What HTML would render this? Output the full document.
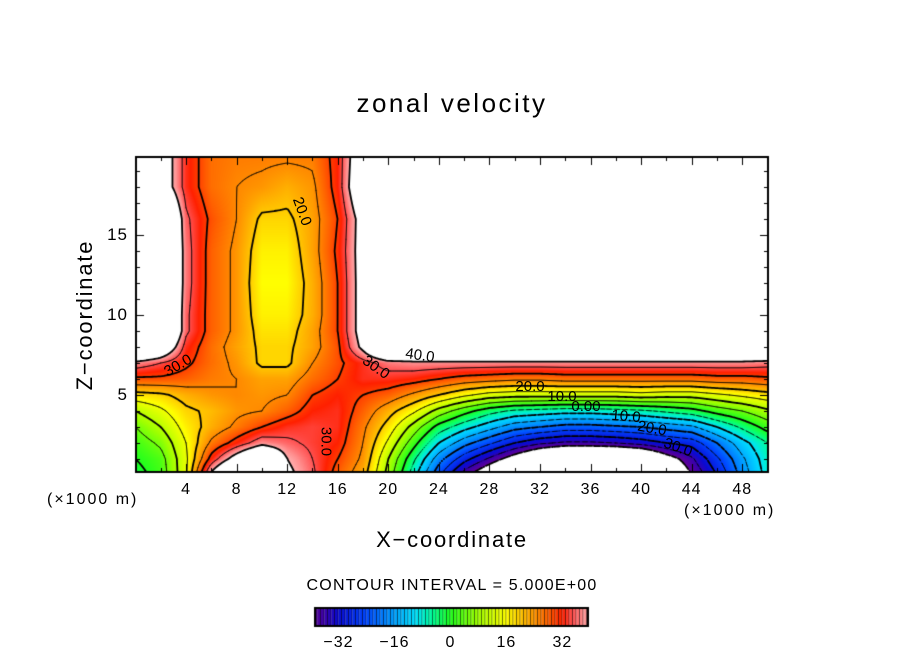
<!DOCTYPE html>
<html><head><meta charset="utf-8">
<style>
body{margin:0;background:#fff;width:904px;height:654px;overflow:hidden;position:relative;font-family:"Liberation Sans",sans-serif;}
.t{position:absolute;color:#000;white-space:nowrap;}
canvas{position:absolute;left:0;top:0;}
</style></head><body>
<canvas id="cv" width="904" height="654"></canvas>
<div class="t" style="left:0;width:904px;text-align:center;top:88px;font-size:26px;letter-spacing:2.5px;">zonal velocity</div>
<div class="t" style="left:252px;width:400px;text-align:center;top:527px;font-size:22px;letter-spacing:1.8px;">X−coordinate</div>
<div class="t" style="left:-15px;width:200px;text-align:center;top:302px;font-size:22px;letter-spacing:1.8px;transform:rotate(-90deg);">Z−coordinate</div>
<div class="t" style="left:47px;top:491px;font-size:16px;letter-spacing:2px;">(×1000 m)</div>
<div class="t" style="left:684px;top:502px;font-size:16px;letter-spacing:2px;">(×1000 m)</div>
<div class="t" style="left:0;width:904px;text-align:center;top:577px;font-size:16px;letter-spacing:1.2px;">CONTOUR INTERVAL = 5.000E+00</div>
<div id="labels"></div>
<script>
const xs=[0,2,4,6,8,10,12,14,16,18,20,22,24,26,28,30,32,34,36,38,40,42,44,46,48,50];
const zs=[0,1,2,3,4,5,6,7,8,9,10,12,14,16,18,20];
const row0=[-2,2,14,42,60,60,42,36,28,22,8,-8,-24,-38,-48,-60,-70,-70,-70,-70,-66,-52,-40,-30,-18,-8];
const row1=[0,3,14,32,44,55,40,35,30,24,10,-4,-18,-28,-36,-44,-52,-58,-58,-58,-54,-44,-36,-26,-16,-7];
const row2=[2,6,15,26,32,38,36,34,32,25,14,2,-10,-18,-24,-30,-34,-36,-36,-35,-33,-30,-28,-20,-12,-5];
const row3=[5,10,17,22,26,30,33,34,33,26,18,8,-2,-8,-13,-18,-20,-22,-22,-21,-20,-18,-16,-10,-4,2];
const row4=[10,14,19,21,24,25,28,32,33,28,22,16,8,2,-3,-6,-7,-8,-8,-7,-6,-4,-2,2,5,9];
const row5=[18,19,22,24,25,24,25,30,32,30,28,24,20,16,13,12,12,12,12,12,13,12,12,14,16,18];
const row6=[29,29,28,26,25,23,23,27,30,33,33,32,30,28,27,26,26,27,27,27,27,27,27,28,28,29];
const row7=[38,35,31,27,24,19,19,25,29,33,37,38,38,38,38,38,38,38,38,38,38,38,38,38,38,37];
const row8=[60,50,33,27,23,19,19,23,29,42,60,60,60,60,60,60,60,60,60,60,60,60,60,60,60,60];
const row9=[60,60,36,28,24,18,18,23,30,44,60,60,60,60,60,60,60,60,60,60,60,60,60,60,60,60];
const row10=[60,60,36,28,24,17,17,22,30,44,60,60,60,60,60,60,60,60,60,60,60,60,60,60,60,60];
const row12=[60,60,37,28,24,16,16,22,30,44,60,60,60,60,60,60,60,60,60,60,60,60,60,60,60,60];
const row14=[60,60,37,28,24,17,17,23,31,44,60,60,60,60,60,60,60,60,60,60,60,60,60,60,60,60];
const row16=[60,60,36,29,25,19,19,23,30,44,60,60,60,60,60,60,60,60,60,60,60,60,60,60,60,60];
const row18=[60,46,33,27,25,24,22,24,32,50,60,60,60,60,60,60,60,60,60,60,60,60,60,60,60,60];
const row20=[60,46,33,27,26,26,26,26,32,48,60,60,60,60,60,60,60,60,60,60,60,60,60,60,60,60];
const field=[row0,row1,row2,row3,row4,row5,row6,row7,row8,row9,row10,row12,row14,row16,row18,row20];
const levels=[-40,-35,-30,-25,-20,-15,-10,-5,0,5,10,15,20,25,30,35,40];
const xTicks=[4,8,12,16,20,24,28,32,36,40,44,48];
const zTicks=[5,10,15];
const cbTicks=[-32,-16,0,16,32];
const labelTexts=["20.0","30.0","30.0","40.0","30.0","20.0","10.0","0.00","10.0","20.0","30.0"];

const L=136,R=768,T=157,B=472;
const X=x=>135.5+12.64*x, Z=z=>475-16*z;
const Xi=p=>(p-135.5)/12.64, Zi=p=>(475-p)/16;
function idx(arr,v){let i=0;while(i<arr.length-2&&v>arr[i+1])i++;return i;}
function val(x,z){
  x=Math.max(0,Math.min(50,x));z=Math.max(0,Math.min(20,z));
  const i=idx(xs,x),j=idx(zs,z);
  const tx=(x-xs[i])/(xs[i+1]-xs[i]),tz=(z-zs[j])/(zs[j+1]-zs[j]);
  const a=field[j][i],b=field[j][i+1],c=field[j+1][i],d=field[j+1][i+1];
  return (a*(1-tx)+b*tx)*(1-tz)+(c*(1-tx)+d*tx)*tz;
}
const stops=[[-40,[100,0,150]],[-36,[60,0,170]],[-32,[10,10,210]],[-24,[0,70,255]],[-16,[0,160,255]],[-10,[0,225,255]],[-5,[0,255,150]],[0,[30,255,30]],[8,[160,255,0]],[16,[255,255,0]],[20,[255,200,0]],[24,[255,150,0]],[28,[255,96,0]],[32,[255,32,0]],[35,[255,80,80]],[38,[255,144,144]],[40,[255,176,176]]];
function col(v){
  if(v>40||v<-40)return [255,255,255];
  for(let k=0;k<stops.length-1;k++){const[a,ca]=stops[k],[b,cb]=stops[k+1];
    if(v<=b){const t=(v-a)/(b-a);return [0,1,2].map(i=>Math.round(ca[i]+(cb[i]-ca[i])*t));}}
  return stops[stops.length-1][1];
}
const cv=document.getElementById('cv'),ctx=cv.getContext('2d');
const img=ctx.createImageData(R-L,B-T);
for(let py=T;py<B;py++)for(let px=L;px<R;px++){
  const c=col(val(Xi(px+0.5),Zi(py+0.5)));const o=((py-T)*(R-L)+(px-L))*4;
  img.data[o]=c[0];img.data[o+1]=c[1];img.data[o+2]=c[2];img.data[o+3]=255;}
ctx.putImageData(img,L,T);
// contours
ctx.save();ctx.beginPath();ctx.rect(L,T,R-L,B-T);ctx.clip();
const st=2,nx=Math.ceil((R-L)/st)+1,ny=Math.ceil((B-T)/st)+1;
const g=[];for(let j=0;j<ny;j++){g[j]=[];for(let i=0;i<nx;i++)g[j][i]=val(Xi(L+i*st),Zi(T+j*st));}
ctx.strokeStyle='#000';ctx.lineCap='round';
levels.forEach(lv=>{
  ctx.lineWidth=(lv%10===0)?1.8:0.8;
  ctx.beginPath();
  for(let j=0;j<ny-1;j++){for(let i=0;i<nx-1;i++){
    if(lv<0&&((i+j)%4===0))continue;
    const x0=L+i*st,y0=T+j*st;
    const v=[g[j][i],g[j][i+1],g[j+1][i+1],g[j+1][i]];
    const pts=[[x0,y0],[x0+st,y0],[x0+st,y0+st],[x0,y0+st]];
    const cr=[];
    for(let e=0;e<4;e++){const a=v[e],b=v[(e+1)%4];
      if((a<lv)!==(b<lv)){const t=(lv-a)/(b-a);const p=pts[e],q=pts[(e+1)%4];cr.push([p[0]+(q[0]-p[0])*t,p[1]+(q[1]-p[1])*t]);}}
    for(let k=0;k+1<cr.length;k+=2){ctx.moveTo(cr[k][0],cr[k][1]);ctx.lineTo(cr[k+1][0],cr[k+1][1]);}
  }}
  ctx.stroke();
});
ctx.restore();
// frame and ticks
ctx.strokeStyle='#000';ctx.lineWidth=2;ctx.strokeRect(L,T,R-L,B-T);
ctx.lineWidth=1;ctx.beginPath();
for(let x=2;x<50;x+=2){const len=(x%4===0)?8:4;const p=Math.round(X(x))+0.5;ctx.moveTo(p,B);ctx.lineTo(p,B-len);ctx.moveTo(p,T);ctx.lineTo(p,T+len);}
for(let z=1;z<20;z++){const len=(z%5===0)?8:4;const p=Math.round(Z(z))+0.5;if(p<T)continue;ctx.moveTo(L,p);ctx.lineTo(L+len,p);ctx.moveTo(R,p);ctx.lineTo(R-len,p);}
ctx.stroke();
// colorbar
const cbL=315,cbR=588,cbT=608,cbB=626,cbMin=-38.7,cbMax=39.3;
const cbX=v=>cbL+(v-cbMin)/(cbMax-cbMin)*(cbR-cbL);
for(let v=-40;v<40;v+=1){const x0=Math.max(cbL,cbX(v)),x1=Math.min(cbR,cbX(v+1));if(x1<=x0)continue;
  const c=col(v+0.5);ctx.fillStyle=`rgb(${c[0]},${c[1]},${c[2]})`;ctx.fillRect(x0,cbT,x1-x0,cbB-cbT);
  ctx.fillStyle='rgba(0,0,0,0.75)';ctx.fillRect(x1-0.8,cbT,0.8,cbB-cbT);}
ctx.lineWidth=2;ctx.strokeRect(cbL,cbT,cbR-cbL,cbB-cbT);
// text labels
const lab=document.getElementById('labels');
xTicks.forEach(x=>{const d=document.createElement('div');d.className='t';
  
  
  d.textContent=x;d.style.cssText=`left:${X(x)-20}px;width:40px;text-align:center;top:481px;font-size:16px;letter-spacing:1px;`;lab.appendChild(d);});
zTicks.forEach(z=>{const d=document.createElement('div');d.className='t';
  
  
  d.textContent=z;d.style.cssText=`left:90px;width:38px;text-align:right;top:${Z(z)-10}px;font-size:17px;letter-spacing:1px;`;lab.appendChild(d);});
cbTicks.forEach(v=>{const d=document.createElement('div');d.className='t';
  
  
  d.textContent=(v<0?'−'+(-v):v);d.style.cssText=`left:${cbX(v)-25}px;width:50px;text-align:center;top:634px;font-size:16px;letter-spacing:1px;`;lab.appendChild(d);});
const lp=[[302,212,70],[178,366,-30],[376,368,35],[420,356,8],[326,442,90],[530,387,0],[562,397,0],[586,407,0],[626,417,5],[652,429,10],[678,448,20]];
labelTexts.forEach((s,k)=>{const d=document.createElement('div');d.className='t';
  
  
  d.textContent=s;d.style.cssText=`left:${lp[k][0]-18}px;top:${lp[k][1]-9}px;width:36px;text-align:center;font-size:15px;transform:rotate(${lp[k][2]}deg);`;lab.appendChild(d);});
</script>
</body></html>
